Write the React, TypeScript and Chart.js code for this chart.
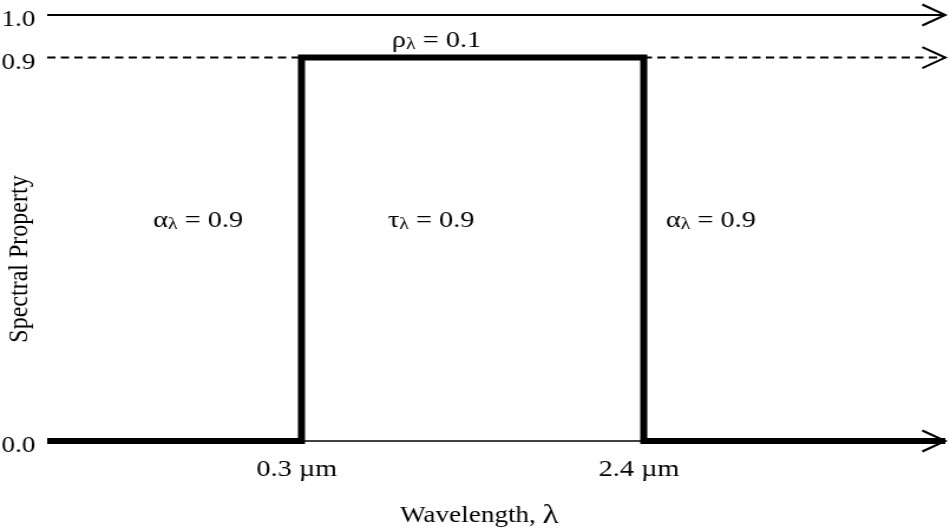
import { useEffect, useRef } from 'react';
import { Chart, registerables } from 'chart.js';

Chart.register(...registerables);

// ---- data ----
const bandEdges = [0.3, 2.4]; // µm, edges of the transmission band
const bandLevels = [0.0, 0.9, 0.0]; // spectral property below / within / above the band
const guideLevels = [1.0, 0.9]; // solid 1.0 line, dashed 0.9 line
const yTickValues = [0.0, 0.9, 1.0];
const yTickLabels = ['0.0', '0.9', '1.0'];
const xTickValues = [0.3, 2.4];
const xTickLabels = ['0.3 µm', '2.4 µm'];
const regionSymbols = ['α', 'τ', 'α', 'ρ'];
const regionValues = ['0.9', '0.9', '0.9', '0.1'];

// schematic axis extent
const X_MIN = -1.26;
const X_MAX = 4.25;

const FONT = '"Liberation Serif", "Times New Roman", Times, serif';
const INNER_W = 805;
const H = 532;

const arrowPlugin = {
  id: 'arrowsAndText',
  afterDatasetsDraw(chart: any) {
    const { ctx, scales } = chart;
    const xs = scales.x;
    const ys = scales.y;
    const tipX = xs.getPixelForValue(X_MAX);
    ctx.save();
    ctx.strokeStyle = '#000';
    ctx.lineWidth = 2;
    ctx.lineJoin = 'miter';
    [guideLevels[0], guideLevels[1], bandLevels[2]].forEach((lv) => {
      const y = ys.getPixelForValue(lv);
      ctx.beginPath();
      ctx.moveTo(tipX - 19.5, y - 10.5);
      ctx.lineTo(tipX, y);
      ctx.lineTo(tipX - 19.5, y + 10.5);
      ctx.stroke();
    });
    ctx.restore();
  },
  afterDraw(chart: any) {
    const { ctx, scales } = chart;
    const xs = scales.x;
    const ys = scales.y;
    ctx.save();
    ctx.fillStyle = '#000';
    ctx.textBaseline = 'alphabetic';
    ctx.textAlign = 'left';

    const anchors = [
      [-0.611, 0.502],
      [0.83, 0.502],
      [2.535, 0.502],
      [0.854, 0.925],
    ];
    regionSymbols.forEach((sym, i) => {
      let x = xs.getPixelForValue(anchors[i][0]);
      const y = ys.getPixelForValue(anchors[i][1]);
      ctx.font = `24px ${FONT}`;
      ctx.fillText(sym, x, y);
      x += ctx.measureText(sym).width;
      ctx.font = `17px ${FONT}`;
      ctx.fillText('λ', x, y + 2);
      x += ctx.measureText('λ').width;
      ctx.font = `24px ${FONT}`;
      ctx.fillText(' = ' + regionValues[i], x, y);
    });

    // x title
    ctx.font = `23px ${FONT}`;
    const t1 = 'Wavelength, ';
    const tx = 339;
    ctx.fillText(t1, tx, 522);
    const w1 = ctx.measureText(t1).width;
    ctx.font = `28px ${FONT}`;
    ctx.fillText('λ', tx + w1, 523);

    // y title
    ctx.translate(17, 259);
    ctx.rotate(-Math.PI / 2);
    ctx.font = `24px ${FONT}`;
    ctx.textAlign = 'center';
    ctx.textBaseline = 'middle';
    ctx.fillText('Spectral Property', 0, 0);
    ctx.restore();
  },
};

export default function App() {
  const ref = useRef<HTMLCanvasElement | null>(null);

  useEffect(() => {
    if (!ref.current) return;
    const stepData = [
      { x: X_MIN, y: bandLevels[0] },
      { x: bandEdges[0], y: bandLevels[0] },
      { x: bandEdges[0], y: bandLevels[1] },
      { x: bandEdges[1], y: bandLevels[1] },
      { x: bandEdges[1], y: bandLevels[2] },
      { x: X_MAX, y: bandLevels[2] },
    ];
    const base = {
      borderColor: '#000',
      pointRadius: 0,
      pointHoverRadius: 0,
      tension: 0,
      fill: false,
      clip: false as any,
    };
    const chart = new Chart(ref.current, {
      type: 'line',
      data: {
        datasets: [
          { ...base, data: stepData, borderWidth: 6, borderJoinStyle: 'miter', borderCapStyle: 'butt' },
          { ...base, data: [{ x: X_MIN, y: bandLevels[0] }, { x: X_MAX, y: bandLevels[0] }], borderWidth: 1.5 },
          { ...base, data: [{ x: X_MIN, y: guideLevels[0] }, { x: X_MAX, y: guideLevels[0] }], borderWidth: 2 },
          { ...base, data: [{ x: X_MIN, y: guideLevels[1] }, { x: bandEdges[0], y: guideLevels[1] }], borderWidth: 2, borderDash: [7, 4.5] },
          { ...base, data: [{ x: bandEdges[1], y: guideLevels[1] }, { x: X_MAX, y: guideLevels[1] }], borderWidth: 2, borderDash: [7, 4.5] },
        ] as any,
      },
      options: {
        responsive: false,
        maintainAspectRatio: false,
        devicePixelRatio: 1,
        animation: false,
        events: [],
        layout: { padding: { top: 15, right: 4, left: 0, bottom: 0 } },
        plugins: { legend: { display: false }, tooltip: { enabled: false }, title: { display: false } },
        scales: {
          x: {
            type: 'linear',
            min: X_MIN,
            max: X_MAX,
            grid: { display: false, drawTicks: false },
            border: { display: false },
            afterBuildTicks: (s: any) => {
              s.ticks = xTickValues.map((v) => ({ value: v }));
            },
            afterFit: (s: any) => {
              s.height = 91;
              s.paddingLeft = 0;
              s.paddingRight = 0;
            },
            ticks: {
              autoSkip: false,
              maxRotation: 0,
              padding: 14,
              labelOffset: -4,
              color: '#000',
              font: { family: FONT, size: 24 },
              callback: (_v: any, i: number) => xTickLabels[i],
            },
          },
          y: {
            type: 'linear',
            min: 0,
            max: 1,
            grid: { display: false, drawTicks: false },
            border: { display: false },
            afterBuildTicks: (s: any) => {
              s.ticks = yTickValues.map((v) => ({ value: v }));
            },
            afterFit: (s: any) => {
              s.width = 40;
              s.paddingTop = 0;
              s.paddingBottom = 0;
            },
            ticks: {
              autoSkip: false,
              padding: 10,
              labelOffset: 5,
              color: '#000',
              font: { family: FONT, size: 23 },
              callback: (_v: any, i: number) => yTickLabels[i],
            },
          },
        },
      } as any,
      plugins: [arrowPlugin],
    });
    return () => chart.destroy();
  }, []);

  return (
    <div style={{ position: 'absolute', left: 0, top: 0, width: 950, height: H, background: '#fff' }}>
      <canvas
        ref={ref}
        width={INNER_W}
        height={H}
        style={{ width: '950px', height: `${H}px`, display: 'block' }}
      />
    </div>
  );
}
